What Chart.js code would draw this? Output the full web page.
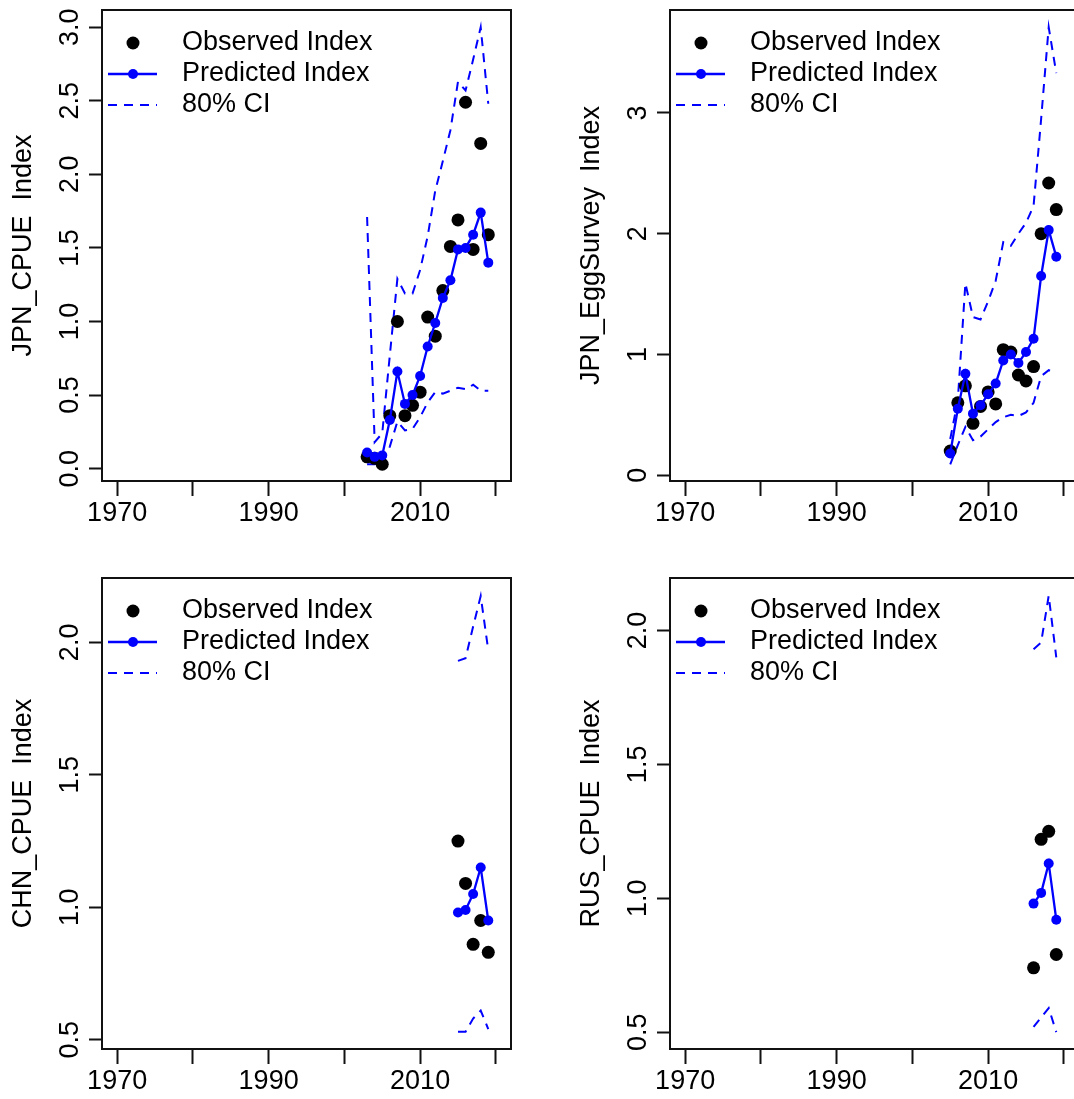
<!DOCTYPE html>
<html lang="en">
<head>
<meta charset="UTF-8">
<title>Index fits</title>
<script src="https://cdn.jsdelivr.net/npm/chart.js@4.4.1/dist/chart.umd.min.js"></script>
<style>
  html, body { margin: 0; padding: 0; background: #fff; overflow: hidden; width: 1074px; height: 1099px; position: relative; }
  .panel { position: absolute; width: 568px; height: 568px; }
</style>
</head>
<body>
<div class="panel" style="left:0;top:0"><canvas id="c1" width="568" height="568"></canvas></div>
<div class="panel" style="left:568px;top:0"><canvas id="c2" width="568" height="568"></canvas></div>
<div class="panel" style="left:0;top:568px"><canvas id="c3" width="568" height="568"></canvas></div>
<div class="panel" style="left:568px;top:568px"><canvas id="c4" width="568" height="568"></canvas></div>
<script>
// ---- data ----
const jpnCpueYears = [2003, 2004, 2005, 2006, 2007, 2008, 2009, 2010, 2011, 2012, 2013, 2014, 2015, 2016, 2017, 2018, 2019];
const jpnCpueObs   = [0.08, 0.07, 0.03, 0.36, 1.00, 0.36, 0.43, 0.52, 1.03, 0.90, 1.21, 1.51, 1.69, 2.49, 1.49, 2.21, 1.59];
const jpnCpuePred  = [0.11, 0.08, 0.09, 0.33, 0.66, 0.44, 0.50, 0.63, 0.83, 0.99, 1.16, 1.28, 1.49, 1.50, 1.59, 1.74, 1.40];
const jpnCpueLo    = [0.03, 0.03, 0.04, 0.15, 0.32, 0.26, 0.27, 0.35, 0.45, 0.52, 0.51, 0.53, 0.55, 0.54, 0.57, 0.53, 0.53];
const jpnCpueHi    = [1.71, 0.18, 0.24, 0.77, 1.29, 1.19, 1.19, 1.35, 1.58, 1.89, 2.09, 2.30, 2.63, 2.57, 2.78, 3.00, 2.48];

const eggYears = [2005, 2006, 2007, 2008, 2009, 2010, 2011, 2012, 2013, 2014, 2015, 2016, 2017, 2018, 2019];
const eggObs   = [0.20, 0.60, 0.74, 0.43, 0.57, 0.69, 0.59, 1.04, 1.02, 0.83, 0.78, 0.90, 2.00, 2.42, 2.20];
const eggPred  = [0.18, 0.55, 0.84, 0.51, 0.58, 0.67, 0.76, 0.95, 1.00, 0.93, 1.02, 1.13, 1.65, 2.03, 1.81];
const eggLo    = [0.09, 0.25, 0.40, 0.29, 0.32, 0.38, 0.44, 0.48, 0.50, 0.49, 0.52, 0.60, 0.82, 0.87, 0.84];
const eggHi    = [0.30, 0.62, 1.59, 1.31, 1.29, 1.44, 1.61, 1.93, 1.90, 2.00, 2.09, 2.23, 2.95, 3.71, 3.33];

const chnYears = [2015, 2016, 2017, 2018, 2019];
const chnObs   = [1.25, 1.09, 0.86, 0.95, 0.83];
const chnPred  = [0.98, 0.99, 1.05, 1.15, 0.95];
const chnLo    = [0.53, 0.53, 0.58, 0.61, 0.54];
const chnHi    = [1.93, 1.94, 2.06, 2.175, 1.97];

const rusYears = [2016, 2017, 2018, 2019];
const rusObs   = [0.74, 1.22, 1.25, 0.79];
const rusPred  = [0.98, 1.02, 1.13, 0.92];
const rusLo    = [0.52, 0.555, 0.59, 0.50];
const rusHi    = [1.93, 1.955, 2.13, 1.90];

// axes
const xTickYears  = [1970, 1980, 1990, 2000, 2010, 2020];
const xLabelYears = [1970, 1990, 2010];
const jpnCpueYTicks = [0, 0.5, 1.0, 1.5, 2.0, 2.5, 3.0];
const eggYTicks     = [0, 1, 2, 3];
const chnYTicks     = [0.5, 1.0, 1.5, 2.0];
const rusYTicks     = [0.5, 1.0, 1.5, 2.0];

const FONT = { family: "'Liberation Sans', Arial, Helvetica, sans-serif", size: 27 };
const BLUE = '#0000ff';
const LEGEND_ORDER = ['Observed Index', 'Predicted Index', '80% CI', ''];

const zip = (xs, ys) => xs.map((x, i) => ({ x: x, y: ys[i] }));

// box round the plot region, like R's box()
const boxPlugin = {
  id: 'rbox',
  afterDatasetsDraw(chart) {
    const { ctx, chartArea: a } = chart;
    ctx.save();
    ctx.strokeStyle = '#111';
    ctx.lineWidth = 2;
    ctx.strokeRect(a.left, a.top, a.right - a.left, a.bottom - a.top);
    ctx.restore();
  }
};

// legend in the top-left corner of the plot region
const legendPlugin = {
  id: 'rlegend',
  afterDraw(chart) {
    const { ctx, chartArea: a } = chart;
    const items = chart.data.datasets.filter(d => d.label);
    ctx.save();
    ctx.font = FONT.size + 'px ' + FONT.family;
    ctx.textBaseline = 'middle';
    items.forEach((d, i) => {
      const y = a.top + 33 + i * 31;
      const x0 = a.left + 6, x1 = a.left + 55, xc = a.left + 31;
      if (d.showLine !== false) {
        ctx.strokeStyle = d.borderColor;
        ctx.lineWidth = d.borderWidth;
        ctx.setLineDash(d.borderDash || []);
        ctx.beginPath();
        ctx.moveTo(x0, y);
        ctx.lineTo(x1, y);
        ctx.stroke();
        ctx.setLineDash([]);
      }
      if (d.pointRadius > 0) {
        ctx.fillStyle = d.pointBackgroundColor;
        ctx.beginPath();
        ctx.arc(xc, y, d.pointRadius, 0, Math.PI * 2);
        ctx.fill();
      }
      ctx.fillStyle = '#000';
      ctx.fillText(d.label, a.left + 80, y);
    });
    ctx.restore();
  }
};

function makePanel(id, title, years, obs, pred, lo, hi, yMin, yMax, yTicks, yDigits, yPad) {
  const datasets = [
    { label: 'Predicted Index', data: zip(years, pred), borderColor: BLUE, borderWidth: 2.3,
      pointRadius: 5, pointBackgroundColor: BLUE, pointBorderWidth: 0, order: 0 },
    { label: 'Observed Index', data: zip(years, obs), showLine: false, borderColor: '#000',
      pointRadius: 6.5, pointBackgroundColor: '#000', pointBorderWidth: 0, order: 1 },
    { label: '80% CI', data: zip(years, hi), borderColor: BLUE, borderWidth: 2, borderDash: [9, 7],
      pointRadius: 0, order: 2 },
    { label: '', data: zip(years, lo), borderColor: BLUE, borderWidth: 2, borderDash: [9, 7],
      pointRadius: 0, order: 2 }
  ].sort((a, b) => LEGEND_ORDER.indexOf(a.label) - LEGEND_ORDER.indexOf(b.label));

  new Chart(document.getElementById(id), {
    type: 'line',
    data: { datasets: datasets },
    options: {
      responsive: false,
      animation: false,
      events: [],
      layout: { padding: { left: 0, top: 10, right: 57, bottom: 0 } },
      plugins: { legend: { display: false }, tooltip: { enabled: false } },
      scales: {
        x: {
          type: 'linear', min: 1968, max: 2022,
          afterBuildTicks: s => { s.ticks = xTickYears.map(v => ({ value: v })); },
          afterFit: s => { s.height = 87; s.paddingLeft = 0; s.paddingRight = 0; },
          ticks: {
            autoSkip: false, maxRotation: 0, padding: 1, color: '#000', font: FONT,
            callback: v => xLabelYears.includes(v) ? String(v) : ''
          },
          grid: { drawOnChartArea: false, drawTicks: true, tickLength: 15, tickColor: '#111', tickWidth: 2 },
          border: { display: false }
        },
        y: {
          type: 'linear', min: yMin, max: yMax,
          afterBuildTicks: s => { s.ticks = yTicks.map(v => ({ value: v })); },
          afterFit: s => { s.width = 102; s.paddingTop = 0; s.paddingBottom = 0; },
          ticks: {
            autoSkip: false, minRotation: 90, maxRotation: 90, crossAlign: 'center',
            padding: yPad, color: '#000', font: FONT,
            callback: v => Number(v).toFixed(yDigits)
          },
          title: { display: true, text: title, color: '#000', font: FONT, padding: { top: 7, bottom: 0 } },
          grid: { drawOnChartArea: false, drawTicks: true, tickLength: 13, tickColor: '#111', tickWidth: 2 },
          border: { display: false }
        }
      }
    },
    plugins: [boxPlugin, legendPlugin]
  });
}

makePanel('c1', 'JPN_CPUE  Index', jpnCpueYears, jpnCpueObs, jpnCpuePred, jpnCpueLo, jpnCpueHi,
          -0.084, 3.117, jpnCpueYTicks, 1, 0);
makePanel('c2', 'JPN_EggSurvey  Index', eggYears, eggObs, eggPred, eggLo, eggHi,
          -0.048, 3.853, eggYTicks, 0, 11);
makePanel('c3', 'CHN_CPUE  Index', chnYears, chnObs, chnPred, chnLo, chnHi,
          0.465, 2.243, chnYTicks, 1, 0);
makePanel('c4', 'RUS_CPUE  Index', rusYears, rusObs, rusPred, rusLo, rusHi,
          0.437, 2.196, rusYTicks, 1, 0);
</script>
</body>
</html>
